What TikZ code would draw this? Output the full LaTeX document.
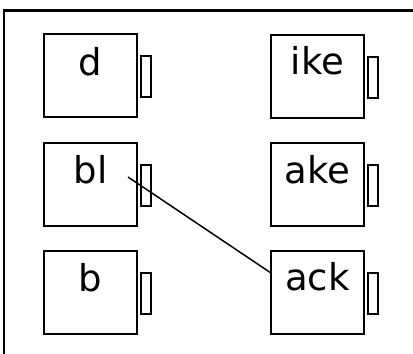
\documentclass[tikz,border=0pt]{standalone}
\usepackage{fontspec}
\setmainfont{DejaVu Sans}
\begin{document}
\begin{tikzpicture}[x=1pt,y=-1pt,
  box/.style={draw=black,line width=2pt,minimum width=93pt,minimum height=83pt,inner sep=0pt},
  tab/.style={draw=black,line width=2pt,minimum width=10pt,minimum height=41pt,inner sep=0pt,anchor=north west},
  lbl/.style={anchor=base,inner sep=0pt,font=\fontsize{37}{40}\selectfont},
  frame/.style={draw=black,line width=2.5pt}]
\useasboundingbox (0,0) rectangle (413,354);
\clip (0,0) rectangle (413,354);
\draw[frame] (4,10.5) rectangle (440,380);
% left column
\node[box] (d) at (90.5,75.5) {};
\node[box] (bl) at (90.5,184.5) {};
\node[box] (b) at (90.5,292.5) {};
% right column
\node[box] (ike) at (317.5,76) {};
\node[box] (ake) at (317.5,184.5) {};
\node[box] (ack) at (317.5,292.5) {};
% tabs
\foreach \n in {d,bl,b,ike,ake,ack}{
  \node[tab] (\n tab) at ([xshift=2pt,yshift=-22pt]\n.north east) {};
}
% labels
\node[lbl] (dl) at ([yshift=-42pt]d.north) {d};
\node[lbl] (bll) at ([yshift=-41pt]bl.north) {bl};
\node[lbl] (bb) at ([yshift=-41pt]b.north) {b};
\node[lbl] (ikel) at ([yshift=-41pt]ike.north) {ike};
\node[lbl] (akel) at ([yshift=-41pt]ake.north) {ake};
\node[lbl] (ackl) at ([yshift=-40pt]ack.north) {ack};
% connector
\coordinate (s) at ([xshift=85pt,yshift=-35pt]bl.north west);
\coordinate (e) at ([xshift=1pt,yshift=-23pt]ack.north west);
\draw[line width=1.5pt] (s) -- (e);
\end{tikzpicture}
\end{document}
